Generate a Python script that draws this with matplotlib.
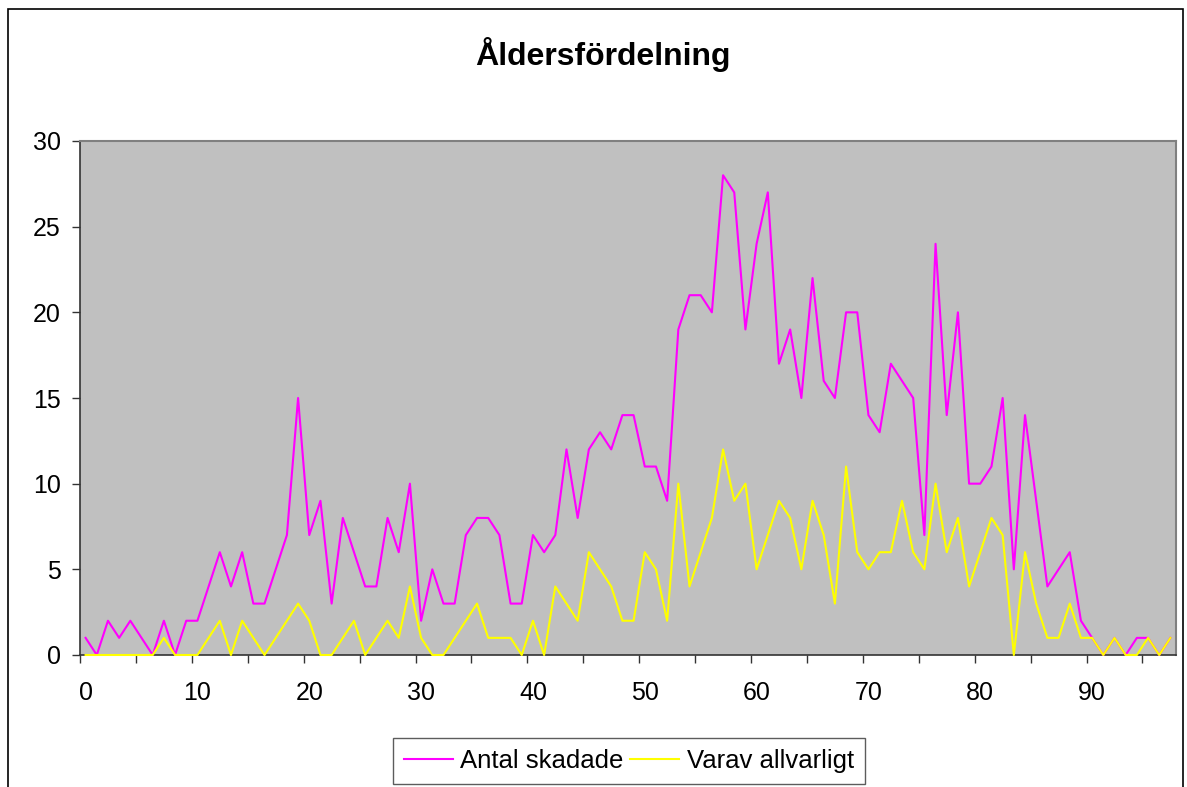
import matplotlib.pyplot as plt
from matplotlib.patches import Rectangle
import numpy as np

plt.rcParams['font.family'] = ['Liberation Sans', 'DejaVu Sans']

# Data: ages 0-97
ages = list(range(98))
antal_skadade = [1, 0, 2, 1, 2, 1, 0, 2, 0, 2,
                 2, 4, 6, 4, 6, 3, 3, 5, 7, 15,
                 7, 9, 3, 8, 6, 4, 4, 8, 6, 10,
                 2, 5, 3, 3, 7, 8, 8, 7, 3, 3,
                 7, 6, 7, 12, 8, 12, 13, 12, 14, 14,
                 11, 11, 9, 19, 21, 21, 20, 28, 27, 19,
                 24, 27, 17, 19, 15, 22, 16, 15, 20, 20,
                 14, 13, 17, 16, 15, 7, 24, 14, 20, 10,
                 10, 11, 15, 5, 14, 9, 4, 5, 6, 2,
                 1, 0, 1, 0, 1, 1, 0, 1]
varav_allvarligt = [0, 0, 0, 0, 0, 0, 0, 1, 0, 0,
                    0, 1, 2, 0, 2, 1, 0, 1, 2, 3,
                    2, 0, 0, 1, 2, 0, 1, 2, 1, 4,
                    1, 0, 0, 1, 2, 3, 1, 1, 1, 0,
                    2, 0, 4, 3, 2, 6, 5, 4, 2, 2,
                    6, 5, 2, 10, 4, 6, 8, 12, 9, 10,
                    5, 7, 9, 8, 5, 9, 7, 3, 11, 6,
                    5, 6, 6, 9, 6, 5, 10, 6, 8, 4,
                    6, 8, 7, 0, 6, 3, 1, 1, 3, 1,
                    1, 0, 1, 0, 0, 1, 0, 1]
series_names = ['Antal skadade', 'Varav allvarligt']
y_ticks = [0, 5, 10, 15, 20, 25, 30]
x_label_ticks = [0, 10, 20, 30, 40, 50, 60, 70, 80, 90]

fig = plt.figure(figsize=(11.87, 7.87), dpi=100)
fig.patch.set_facecolor('white')

# outer chart border (bottom edge runs off the picture)
fig.patches.append(Rectangle((8 / 1187, -0.05), (1183 - 8) / 1187, 1.05 - 9 / 787,
                             transform=fig.transFigure, fill=False,
                             edgecolor='black', linewidth=1.2))

ax = fig.add_axes([80 / 1187, 1 - 655 / 787, (1176 - 80) / 1187, (655 - 141) / 787])
ax.set_facecolor('#C0C0C0')

l1, = ax.plot(ages, antal_skadade, color='#FF00FF', linewidth=1.5, clip_on=False, zorder=3)
l2, = ax.plot(ages, varav_allvarligt, color='#FFFF00', linewidth=1.5, clip_on=False, zorder=4)

ax.set_xlim(-0.5, len(ages) - 0.5)
ax.set_ylim(0, 30)

ax.set_yticks(y_ticks)
ax.tick_params(axis='y', direction='out', length=6, width=1, pad=8, labelsize=18, color='#333333')

ax.set_xticks(x_label_ticks)
ax.set_xticks(np.arange(-0.5, len(ages), 5), minor=True)
ax.tick_params(axis='x', which='major', length=0, pad=19, labelsize=18)
ax.tick_params(axis='x', which='minor', direction='out', length=6, width=1, color='#333333')

for side in ['top', 'right']:
    ax.spines[side].set_color('#808080')
    ax.spines[side].set_linewidth(1.5)
for side in ['left', 'bottom']:
    ax.spines[side].set_color('#333333')
    ax.spines[side].set_linewidth(1.2)

fig.text(603 / 1187, 1 - 55 / 787, 'Åldersfördelning', ha='center', va='center',
         fontsize=23, fontweight='bold')

leg = fig.legend([l1, l2], series_names, loc='upper left',
                 bbox_to_anchor=(393 / 1187, 1 - 738 / 787), ncol=2,
                 fontsize=18.5, frameon=True, fancybox=False, edgecolor='#333333',
                 handlelength=1.9, handletextpad=0.3, columnspacing=0.25,
                 borderpad=0.42, borderaxespad=0)
leg.get_frame().set_linewidth(1.0)

fig.savefig('out.png', dpi=100, facecolor='white')
